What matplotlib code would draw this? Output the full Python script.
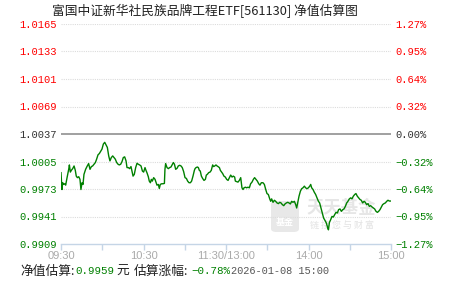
import numpy as np
import matplotlib
matplotlib.use("Agg")
import matplotlib.pyplot as plt
from matplotlib.patches import FancyBboxPatch

plt.rcParams['font.family'] = ['Noto Sans CJK SC', 'DejaVu Sans']

title = '富国中证新华社民族品牌工程ETF[561130] 净值估算图'

# minutes after 09:30 (11:30/13:00 joined at 120) and estimated nav
t_a = [0, 0.7, 1.2, 1.9, 2.7, 3.4, 4.4, 5.6, 6.1, 6.8, 7.5, 8.5, 9.5, 10.4, 11.1, 11.9, 12.9, 13.8,
       14.5, 15.3, 16.0, 16.7, 17.9, 19.1, 20.1, 21.1, 22.1, 23.0, 24.0, 25.0, 25.9, 26.9, 27.9,
       28.8, 29.8, 30.8, 31.8, 32.7, 33.7, 34.7, 35.6, 36.6, 37.6, 38.5, 39.5, 40.5, 41.5, 42.4,
       43.4, 44.4, 45.3, 46.3, 47.3, 48.0]
nav_a = [0.99920, 0.99724, 0.99803, 0.99783, 0.99791, 0.99775, 0.99862, 0.99959, 1.00010, 0.99927,
         0.99947, 0.99967, 0.99998, 0.99947, 0.99880, 0.99862, 0.99873, 0.99842, 0.99724, 0.99803,
         0.99783, 0.99900, 0.99959, 0.99998, 1.00026, 0.99959, 0.99991, 0.99998, 1.00018, 1.00038,
         1.00077, 1.00127, 1.00143, 1.00167, 1.00194, 1.00253, 1.00273, 1.00244, 1.00214, 1.00115,
         1.00057, 1.00096, 1.00115, 1.00096, 1.00077, 1.00038, 1.00018, 1.00010, 1.00018, 1.00050,
         1.00096, 1.00104, 1.00057, 0.99979]

t_b = [49.0, 49.9, 50.9, 51.6, 52.4, 53.3, 54.3, 55.3, 56.2, 57.2, 58.2, 59.2, 60.1, 61.1, 61.8,
       62.5, 63.5, 64.2, 65.0, 65.7, 66.4, 67.4, 68.4, 69.1, 69.8, 70.8, 71.5, 72.2, 73.2, 74.2,
       75.2, 75.6, 76.1, 77.1, 78.1, 79.0, 80.0, 81.0, 81.7, 82.5, 83.4, 84.4, 85.3, 86.3, 87.3,
       88.2, 89.2, 90.2, 91.2, 92.1, 93.1, 94.1, 95.0, 96.0, 97.0]
nav_b = [0.99979, 0.99967, 0.99991, 0.99939, 0.99880, 0.99900, 0.99979, 1.00030, 1.00018, 1.00010,
         0.99998, 0.99939, 0.99927, 0.99979, 0.99947, 0.99920, 0.99873, 0.99822, 0.99803, 0.99842,
         0.99822, 0.99862, 0.99842, 0.99810, 0.99775, 0.99783, 0.99736, 0.99783, 0.99791, 0.99791,
         0.99795, 0.99959, 1.00026, 0.99979, 0.99967, 0.99979, 0.99986, 1.00018, 1.00038, 1.00018,
         0.99959, 0.99971, 0.99998, 1.00006, 0.99998, 0.99979, 0.99932, 0.99862, 0.99853, 0.99822,
         0.99803, 0.99803, 0.99822, 0.99880, 0.99947]

t_c = [97.5, 98.2, 99.2, 99.9, 100.6, 101.3, 102.1, 103.0, 104.0, 105.0, 105.7, 106.4, 107.4,
       108.4, 109.3, 110.3, 111.0, 111.8, 112.7, 113.5, 114.2, 115.2, 115.9, 116.6, 117.6, 118.5,
       119.5, 120.5, 121.5, 122.5, 123.4, 124.4, 125.3, 126.3, 126.8, 127.8, 128.7, 129.7, 130.7,
       131.6, 132.4, 133.1, 134.1, 135.0, 136.0, 137.0, 137.9, 138.9, 139.9, 140.8, 141.8, 142.8,
       143.8, 144.7, 145.7]
nav_c = [0.99967, 0.99979, 0.99986, 0.99979, 0.99947, 0.99939, 0.99880, 0.99853, 0.99830, 0.99842,
         0.99892, 0.99900, 0.99920, 0.99927, 0.99947, 1.00010, 0.99991, 0.99998, 1.00010, 0.99998,
         0.99991, 0.99979, 0.99947, 0.99932, 0.99909, 0.99880, 0.99869, 0.99842, 0.99830, 0.99862,
         0.99892, 0.99869, 0.99880, 0.99869, 0.99822, 0.99815, 0.99810, 0.99830, 0.99862, 0.99744,
         0.99724, 0.99744, 0.99751, 0.99744, 0.99751, 0.99744, 0.99791, 0.99810, 0.99842, 0.99862,
         0.99842, 0.99822, 0.99791, 0.99775, 0.99803]

t_d = [146.9, 147.9, 148.9, 149.8, 150.8, 151.8, 152.5, 153.2, 154.2, 155.2, 156.1, 157.1, 158.1,
       159.1, 160.0, 161.0, 162.0, 162.9, 163.9, 164.9, 165.8, 166.8, 167.8, 168.7, 169.7, 170.7,
       171.4, 172.1, 173.1, 174.1, 175.0, 176.0, 177.0, 177.9, 178.9, 179.9, 180.9, 181.6, 182.3,
       183.3, 184.2, 185.2, 186.2, 187.2, 188.1, 189.1, 190.1, 191.0, 192.0, 193.0, 194.0, 194.5]
nav_d = [0.99803, 0.99783, 0.99724, 0.99677, 0.99666, 0.99615, 0.99587, 0.99615, 0.99575, 0.99599,
         0.99587, 0.99568, 0.99560, 0.99575, 0.99568, 0.99548, 0.99536, 0.99556, 0.99568, 0.99575,
         0.99568, 0.99556, 0.99587, 0.99575, 0.99587, 0.99548, 0.99509, 0.99568, 0.99646, 0.99704,
         0.99733, 0.99744, 0.99763, 0.99744, 0.99733, 0.99744, 0.99763, 0.99783, 0.99744, 0.99724,
         0.99693, 0.99666, 0.99627, 0.99587, 0.99568, 0.99509, 0.99451, 0.99392, 0.99364, 0.99333,
         0.99275, 0.99255]

t_e = [195.2, 196.1, 197.1, 198.1, 199.0, 200.0, 201.0, 201.9, 202.9, 203.9, 204.9, 205.8, 206.8,
       207.8, 208.7, 209.7, 210.7, 211.6, 212.6, 213.6, 214.5, 215.5, 216.5, 217.5, 218.4, 219.4,
       220.4, 221.3, 222.3, 223.3, 224.2, 225.2, 226.2, 227.2, 228.1, 229.1, 230.1, 231.0, 232.0,
       233.0, 233.9, 234.9, 235.9, 236.9, 237.8, 238.8, 240.0]
nav_e = [0.99340, 0.99372, 0.99411, 0.99404, 0.99431, 0.99458, 0.99451, 0.99490, 0.99498, 0.99470,
         0.99490, 0.99498, 0.99528, 0.99568, 0.99587, 0.99615, 0.99627, 0.99615, 0.99646, 0.99666,
         0.99677, 0.99646, 0.99627, 0.99607, 0.99599, 0.99568, 0.99587, 0.99575, 0.99548, 0.99560,
         0.99528, 0.99536, 0.99521, 0.99509, 0.99498, 0.99470, 0.99458, 0.99470, 0.99490, 0.99521,
         0.99548, 0.99560, 0.99568, 0.99587, 0.99599, 0.99590, 0.99590]

base_nav = 1.0037
ytick_vals = [1.0165, 1.0133, 1.0101, 1.0069, 1.0037, 1.0005, 0.9973, 0.9941, 0.9909]
ytick_left = ['1.0165', '1.0133', '1.0101', '1.0069', '1.0037', '1.0005', '0.9973', '0.9941', '0.9909']
ytick_right = ['1.27%', '0.95%', '0.64%', '0.32%', '0.00%', '\u22120.32%', '\u22120.64%', '\u22120.95%', '\u22121.27%']
xtick_vals = [0, 30, 60, 90, 120, 150, 180, 210, 240]
xtick_labels = ['09:30', '', '10:30', '', '11:30/13:00', '', '14:00', '', '15:00']

est_nav = '0.9959'
est_change = '\u22120.78%'
est_time = '2026-01-08 15:00'

RED, GREEN, DARK = '#ff0000', '#008000', '#333333'
MONO = ['Liberation Mono', 'DejaVu Sans Mono']

W, H = 451, 281
fig = plt.figure(figsize=(W / 100, H / 100), dpi=100)
ax = fig.add_axes([61 / W, (H - 244) / H, 330 / W, 220 / H])
ax.patch.set_alpha(0)

times = np.concatenate([t_a, t_b, t_c, t_d, t_e])
navs = np.concatenate([nav_a, nav_b, nav_c, nav_d, nav_e])
ax.plot(times, navs, color=GREEN, lw=1.0, zorder=3)

ax.set_xlim(0, 240)
ax.set_ylim(ytick_vals[-1], ytick_vals[0])

for v in ytick_vals[:-1]:
    if v == base_nav:
        ax.axhline(v, color='#999999', lw=1.3, zorder=2)
    else:
        ax.axhline(v, color='#dcdcdc', lw=0.8, ls=(0, (1, 1)), zorder=1)

for s in ['top', 'left', 'right']:
    ax.spines[s].set_visible(False)
ax.spines['bottom'].set_color('#c5d5e6')
ax.spines['bottom'].set_linewidth(1.0)

ax.set_xticks(xtick_vals)
ax.set_xticklabels(xtick_labels, fontsize=8, color='#aaaaaa', family=['Liberation Sans', 'DejaVu Sans'])
ax.tick_params(axis='x', length=4.5, width=1.0, color='#c5d5e6', pad=0.5)

ax.set_yticks(ytick_vals)
ax.set_yticklabels(ytick_left, fontsize=7.6, family=MONO)
ax.tick_params(axis='y', length=0, pad=3)

ax2 = ax.twinx()
ax2.set_ylim(ax.get_ylim())
ax2.set_yticks(ytick_vals)
ax2.set_yticklabels(ytick_right, fontsize=7.6, family=MONO)
ax2.tick_params(axis='y', length=0, pad=3)
for s in ax2.spines.values():
    s.set_visible(False)

for v, l1, l2 in zip(ytick_vals, ax.get_yticklabels(), ax2.get_yticklabels()):
    c = RED if v > base_nav else (GREEN if v < base_nav else DARK)
    l1.set_color(c)
    l2.set_color(c)

# title
fig.text(205 / W, 1 - 11 / H, title, ha='center', va='center', fontsize=9.2, color='#222222')

# watermark
box = FancyBboxPatch((271 / W, (H - 232) / H), 28 / W, 31 / H,
                     boxstyle='round,pad=0,rounding_size=0.012', transform=fig.transFigure,
                     facecolor='#e8e8e8', edgecolor='none', zorder=0.5)
ax.add_artist(box)
box.set_clip_on(False)
ax.text(285 / W, 1 - 222 / H, '基金', transform=fig.transFigure, ha='center', va='center',
        fontsize=6.5, color='white', fontweight='bold', zorder=0.6, clip_on=False)
ax.text(341 / W, 1 - 208 / H, '天天基金', transform=fig.transFigure, ha='center', va='center',
        fontsize=12.5, color='#e6e6e6', fontweight='bold', zorder=0.6, clip_on=False)
ax.text(342 / W, 1 - 225 / H, '链 接 您 与 财 富', transform=fig.transFigure, ha='center', va='center',
        fontsize=6.5, color='#e2e2e2', zorder=0.6, clip_on=False)

# bottom summary line
yb = 1 - 271 / H
fig.text(20 / W, yb, '净值估算:', ha='left', va='center', fontsize=9.2, color='#222222')
fig.text(75 / W, yb, est_nav, ha='left', va='center', fontsize=7.8, color=GREEN, family=MONO)
fig.text(116 / W, yb, '元', ha='left', va='center', fontsize=9.2, color='#222222')
fig.text(134 / W, yb, '估算涨幅:', ha='left', va='center', fontsize=9.2, color='#222222')
fig.text(191 / W, yb, est_change, ha='left', va='center', fontsize=7.8, color=GREEN, family=MONO)
fig.text(231 / W, yb, est_time, ha='left', va='center', fontsize=7.4, color='#555555', family=MONO)

fig.savefig('out.png', dpi=100)
